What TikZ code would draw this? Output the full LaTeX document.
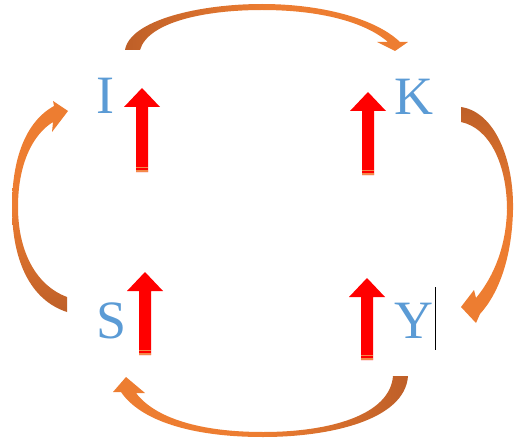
\documentclass[tikz,border=0pt]{standalone}
\usepackage{fontspec}
\setmainfont{Liberation Serif}
\definecolor{lblue}{HTML}{5B9BD5}
\definecolor{orng}{HTML}{ED7D31}
\definecolor{dorng}{HTML}{BE5F28}
\definecolor{arred}{HTML}{FF0000}
\definecolor{stripe}{HTML}{F3894A}
\newcommand\upblock[3]{%
  \fill[arred] ({#1-6},{#3}) -- ({#1-6},{#2+19}) -- ({#1-18},{#2+19}) -- (#1,#2)
    -- ({#1+18},{#2+19}) -- ({#1+6},{#2+19}) -- ({#1+6},{#3}) -- cycle;
  \fill[stripe] ({#1-6},{#3-5}) rectangle ({#1+6},{#3-4});
  \fill[stripe] ({#1-6},{#3-2.5}) rectangle ({#1+6},{#3});
}
\tikzset{
  letter/.style={text=lblue, font=\fontsize{54}{54}\selectfont, inner sep=0pt, anchor=base},
}
\begin{document}
\begin{tikzpicture}[x=1pt,y=-1pt]
\useasboundingbox (0,0) rectangle (514,441);
% letters
\node[letter] (I) at (105,114) {I};
\node[letter] (K) at (414,115) {K};
\node[letter] (S) at (112,338) {S};
\node[letter] (Y) at (414,338) {Y};
% cursor
\draw[black, line width=0.9pt] (435,287) -- (435,350);
% red block arrows
\upblock{142}{88}{172}
\upblock{368}{92}{175}
\upblock{145}{272}{355}
\upblock{367}{278}{360}
% top curved arrow (tail left)
\shade[left color=dorng, right color=orng, middle color=orng]
  (125,50) .. controls (130,20) and (200,4) .. (262,4)
  .. controls (320,4) and (375,18) .. (400,42) -- (408,42) -- (395,51) -- (377,42) -- (388,42)
  .. controls (365,22) and (320,10) .. (262,10)
  .. controls (205,10) and (148,22) .. (140,50) -- cycle;
% right curved arrow (tail top)
\shade[top color=dorng, bottom color=orng, middle color=orng]
  (461,107) .. controls (495,112) and (514,160) .. (513,210)
  .. controls (512,255) and (500,292) .. (480,314) -- (476,323) -- (461,307) -- (474,290) -- (476,298)
  .. controls (495,275) and (506,245) .. (507,210)
  .. controls (507,165) and (490,128) .. (461,122) -- cycle;
% bottom curved arrow (tail right)
\shade[right color=dorng, left color=orng, middle color=orng]
  (408,376) .. controls (405,420) and (330,437) .. (263,437)
  .. controls (190,437) and (140,420) .. (121,392) -- (113,392) -- (126,377) -- (145,393) -- (136,393)
  .. controls (155,418) and (200,432) .. (263,432)
  .. controls (330,432) and (390,415) .. (393,376) -- cycle;
% left curved arrow (tail bottom)
\shade[bottom color=dorng, top color=orng, middle color=orng]
  (67,312) .. controls (30,300) and (12,260) .. (12,207)
  .. controls (12,160) and (25,122) .. (54,106) -- (53,101) -- (68,111) -- (52,132) -- (53,122)
  .. controls (32,135) and (18,165) .. (18,207)
  .. controls (18,250) and (35,285) .. (67,297) -- cycle;
\end{tikzpicture}
\end{document}
